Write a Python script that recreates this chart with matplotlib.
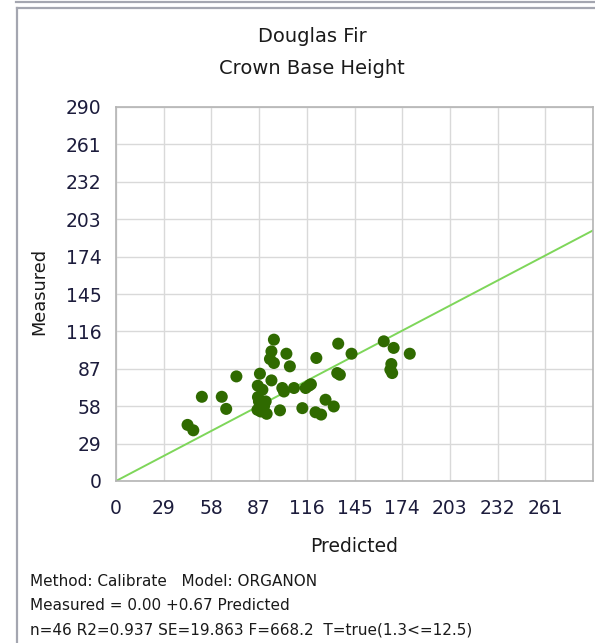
import matplotlib
matplotlib.use("Agg")
import matplotlib.pyplot as plt
from matplotlib.lines import Line2D

predicted = [43.5, 47.0, 52.2, 64.3, 67.0, 73.2, 86.2, 86.3, 86.0, 86.9, 88.0, 87.5,
             89.0, 91.0, 91.6, 93.6, 94.5, 96.0, 96.0, 94.5, 99.7, 101.1, 102.1, 103.6,
             105.7, 108.2, 113.3, 115.3, 117.3, 121.3, 124.7, 121.8, 127.4, 132.4, 134.5,
             136.1, 135.1, 143.2, 162.8, 168.8, 178.6, 167.4, 166.8, 167.9, 118.5, 90.0]
measured = [43.5, 39.3, 65.3, 65.3, 55.9, 81.1, 73.9, 65.1, 55.2, 61.7, 53.9, 83.2,
            70.8, 61.7, 52.1, 94.6, 100.5, 109.6, 91.5, 78.0, 54.8, 72.1, 69.4, 98.7,
            88.9, 72.1, 56.5, 72.1, 73.9, 53.3, 51.5, 95.4, 63.0, 57.8, 83.7,
            82.4, 106.5, 98.7, 108.3, 103.2, 98.7, 90.7, 86.3, 83.7, 75.0, 58.0]
ticks = [0, 29, 58, 87, 116, 145, 174, 203, 232, 261, 290]
xtick_labels = ["0", "29", "58", "87", "116", "145", "174", "203", "232", "261", ""]
ytick_labels = ["0", "29", "58", "87", "116", "145", "174", "203", "232", "261", "290"]
intercept = 0.0
slope = 0.67
title_lines = ["Douglas Fir", "Crown Base Height"]
stats_lines = ["Method: Calibrate   Model: ORGANON",
               "Measured = 0.00 +0.67 Predicted",
               "n=46 R2=0.937 SE=19.863 F=668.2  T=true(1.3<=12.5)"]

W, H = 595, 643
fig = plt.figure(figsize=(W / 100, H / 100), dpi=100)
fig.patch.set_facecolor("white")
txt_col = "#1a1a1a"

# panel frame lines
frame_col = "#a4a6b0"
fig.add_artist(Line2D([16 / W, 1.0], [1 - 1.5 / H, 1 - 1.5 / H], color=frame_col, lw=1.6))
fig.add_artist(Line2D([16.5 / W, 1.0], [1 - 8 / H, 1 - 8 / H], color=frame_col, lw=1.6))
fig.add_artist(Line2D([16.5 / W, 16.5 / W], [0, 1 - 8 / H], color=frame_col, lw=1.6))

left, right, top, bottom = 116, 593, 107, 481
ax = fig.add_axes([left / W, 1 - bottom / H, (right - left) / W, (bottom - top) / H])
ax.set_xlim(0, 290)
ax.set_ylim(0, 290)
ax.set_xticks(ticks)
ax.set_yticks(ticks)
ax.set_xticklabels(xtick_labels)
ax.set_yticklabels(ytick_labels)
ax.grid(True, color="#d9d9d9", lw=1.0)
ax.set_axisbelow(True)
for s in ax.spines.values():
    s.set_color("#b4b4b4")
    s.set_linewidth(1.2)
ax.tick_params(length=0, labelsize=13.5, labelcolor="#1c1c3c")
ax.tick_params(axis="y", pad=10.5)
ax.tick_params(axis="x", pad=13)

xs = [0, 290]
ax.plot(xs, [intercept + slope * v for v in xs], color="#7ed65a", lw=1.4, zorder=2)
ax.scatter(predicted, measured, s=75, color="#2f6a00", edgecolors="none", zorder=3)

fig.text(312 / W, 1 - 37 / H, title_lines[0], ha="center", va="center", fontsize=14, color=txt_col)
fig.text(312 / W, 1 - 68 / H, title_lines[1], ha="center", va="center", fontsize=14, color=txt_col)
fig.text(354 / W, 1 - 547 / H, "Predicted", ha="center", va="center", fontsize=13.5, color=txt_col)
fig.text(39 / W, 1 - 291 / H, "Measured", ha="center", va="center", rotation=90, fontsize=12.8, color=txt_col)

for i, line in enumerate(stats_lines):
    fig.text(30 / W, 1 - (582 + 24 * i) / H, line, ha="left", va="center", fontsize=11, color=txt_col)

fig.savefig("out.png", dpi=100)
